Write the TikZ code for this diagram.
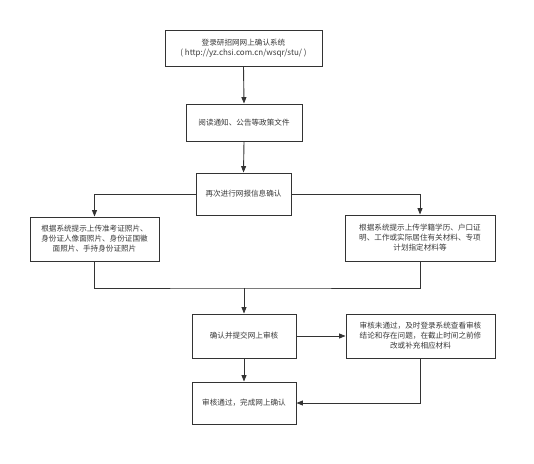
\documentclass[tikz,border=0pt]{standalone}
\usepackage{fontspec}
\setmainfont{Noto Sans CJK SC}
\usetikzlibrary{arrows.meta}
\definecolor{ln}{HTML}{333333}
\definecolor{tx}{HTML}{3a3a3a}
\begin{document}
\begin{tikzpicture}[x=1pt,y=-1pt,
  box/.style={draw=ln,line width=0.9pt,fill=white,inner sep=0pt,align=center,
    font=\fontsize{7.6}{10}\selectfont,text=tx},
  conn/.style={draw=ln,line width=0.9pt},
  arr/.style={conn,-{Triangle[length=6.5pt,width=5pt]}}]
\useasboundingbox (0,0) rectangle (534,463);
\node[box,minimum width=157pt,minimum height=36pt] (b1) at (243.5,48) {登录研招网网上确认系统\\{\fontsize{8}{10}\selectfont ( http://yz.chsi.com.cn/wsqr/stu/ )}};
\node[box,minimum width=116pt,minimum height=37pt] (b2) at (244,122.5) {阅读通知、公告等政策文件};
\node[box,minimum width=95pt,minimum height=42pt] (b3) at (243.5,194) {再次进行网报信息确认};
\node[box,minimum width=129pt,minimum height=44pt] (b4) at (94.5,239) {根据系统提示上传准考证照片、\\身份证人像面照片、身份证国徽\\面照片、手持身份证照片};
\node[box,minimum width=150pt,minimum height=46pt] (b5) at (420,238) {根据系统提示上传学籍学历、户口证\\明、工作或实际居住有关材料、专项\\计划指定材料等};
\node[box,minimum width=104pt,minimum height=44pt] (b6) at (244,336) {确认并提交网上审核};
\node[box,minimum width=149pt,minimum height=44pt] (b7) at (420.5,336) {审核未通过，及时登录系统查看审核\\结论和存在问题，在截止时间之前修\\改或补充相应材料};
\node[box,minimum width=104pt,minimum height=42pt] (b8) at (244,403) {审核通过，完成网上确认};
\coordinate (m) at (244,288);
\draw[arr] (b1.south) -- (b2.north);
\draw[arr] (b2.south) -- (b3.north);
\draw[arr] (b3.west) -| (b4.north);
\draw[arr] (b3.east) -| (b5.north);
\draw[conn] (b4.south) |- (m) -| (b5.south);
\draw[arr] (m) -- (b6.north);
\draw[arr] (b6.east) -- (b7.west);
\draw[arr] (b6.south) -- (b8.north);
\draw[arr] (b7.south) |- (b8.east);
\end{tikzpicture}
\end{document}
